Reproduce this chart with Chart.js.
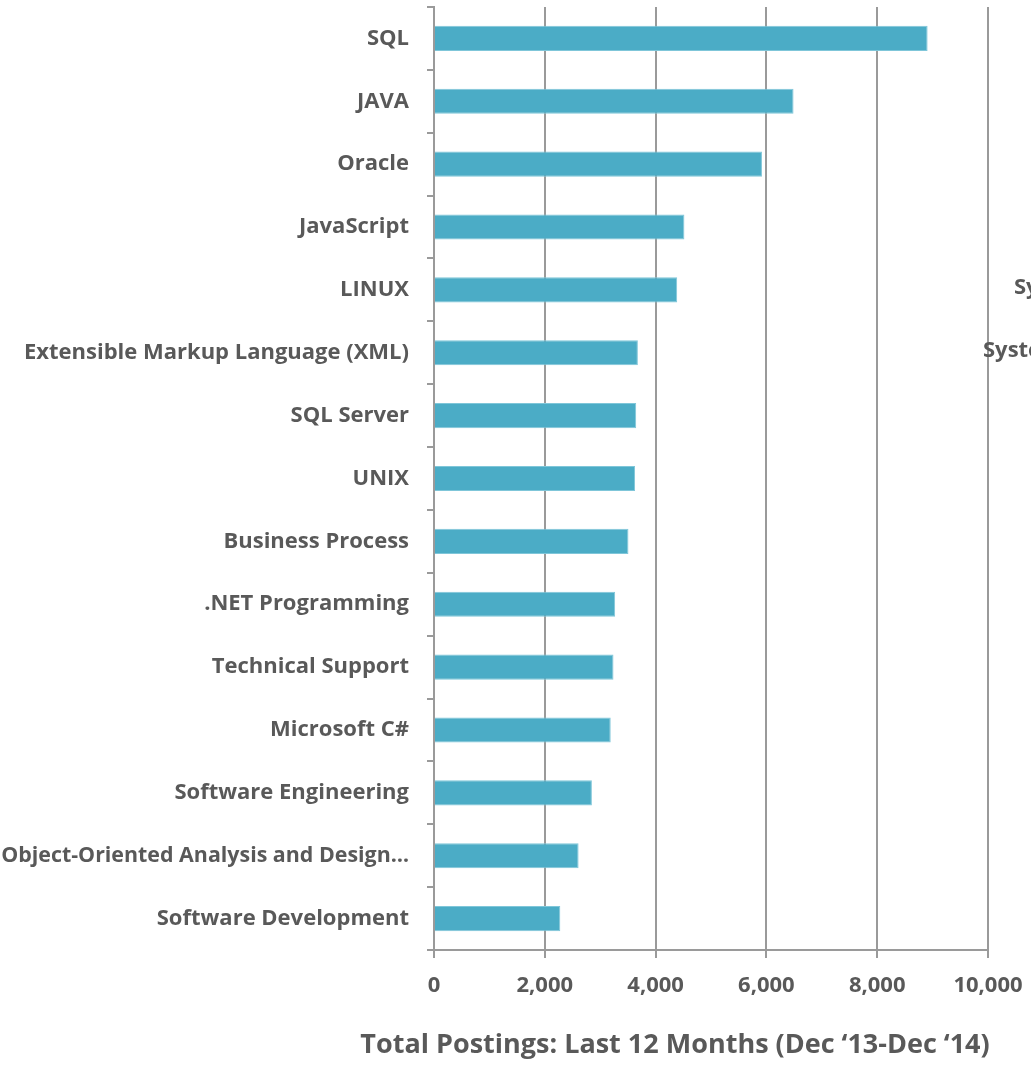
<!DOCTYPE html>
<html>
<head>
<meta charset="utf-8">
<script src="https://cdn.jsdelivr.net/npm/chart.js@4"></script>
<style>
    body { margin: 0; background: #fff; }
    #wrap { width: 1031px; height: 1067px; }
</style>
</head>
<body>
<div id="wrap"><canvas id="skillsChart"></canvas></div>
<script>
// Skills and posting counts
const skills = [
    'SQL', 'JAVA', 'Oracle', 'JavaScript', 'LINUX',
    'Extensible Markup Language (XML)', 'SQL Server', 'UNIX', 'Business Process',
    '.NET Programming', 'Technical Support', 'Microsoft C#', 'Software Engineering',
    'Object-Oriented Analysis and Design…', 'Software Development'
];
const postings = [8910, 6490, 5920, 4520, 4390, 3680, 3650, 3630, 3510, 3270, 3240, 3190, 2850, 2610, 2280];
const xTicks = [0, 2000, 4000, 6000, 8000, 10000];
const axisTitle = 'Total Postings: Last 12 Months (Dec \u201813-Dec \u201814)';
// bits of the neighbouring chart that peek in at the right edge
const clippedLabels = ['Systems', 'Systems'];

const textColor = '#595959';
const gridColor = '#9a9a9a';

// Draw the axis title and the clipped neighbour labels
const extraText = {
    id: 'extraText',
    afterDraw(chart) {
        const ctx = chart.ctx;
        ctx.save();
        ctx.fillStyle = textColor;
        ctx.textBaseline = 'middle';
        ctx.font = 'bold 27px "Open Sans"';
        ctx.textAlign = 'center';
        ctx.fillText(axisTitle, 675, 1045);
        ctx.font = 'bold 22px "Open Sans"';
        ctx.textAlign = 'left';
        ctx.fillText(clippedLabels[0], 1014, 288);
        ctx.fillText(clippedLabels[1], 983, 351);
        ctx.restore();
    }
};

document.addEventListener('DOMContentLoaded', function () {
    const ctx = document.getElementById('skillsChart').getContext('2d');
    new Chart(ctx, {
        type: 'bar',
        data: {
            labels: skills,
            datasets: [{
                label: 'Postings',
                data: postings,
                backgroundColor: '#4BACC6',
                borderColor: '#7fc6d9',
                borderWidth: 1,
                borderSkipped: 'start',
                categoryPercentage: 1,
                barPercentage: 0.4
            }]
        },
        options: {
            indexAxis: 'y',
            responsive: true,
            maintainAspectRatio: false,
            animation: false,
            layout: { padding: { top: 7, right: 43, left: 0, bottom: 0 } },
            plugins: {
                legend: { display: false },
                tooltip: { enabled: false }
            },
            scales: {
                x: {
                    min: 0,
                    max: 10000,
                    afterBuildTicks(scale) {
                        scale.ticks = xTicks.map(v => ({ value: v }));
                    },
                    afterFit(scale) {
                        scale.height = 117;
                        scale.paddingLeft = 0;
                        scale.paddingRight = 0;
                    },
                    grid: {
                        color: gridColor,
                        lineWidth: 2,
                        tickLength: 8,
                        drawTicks: true
                    },
                    border: { color: gridColor, width: 2 },
                    ticks: {
                        color: textColor,
                        padding: 15,
                        font: { family: 'Open Sans', size: 22, weight: 'bold' },
                        callback: v => v.toLocaleString('en-US')
                    }
                },
                y: {
                    afterFit(scale) {
                        scale.width = 434;
                        scale.paddingTop = 0;
                        scale.paddingBottom = 0;
                    },
                    grid: {
                        offset: true,
                        drawOnChartArea: false,
                        color: gridColor,
                        lineWidth: 2,
                        tickLength: 7
                    },
                    border: { color: gridColor, width: 2 },
                    ticks: {
                        color: textColor,
                        padding: 18,
                        autoSkip: false,
                        // the long truncated label is squeezed a little so it fits
                        font: (c) => ({
                            family: 'Open Sans',
                            size: skills[c.index] && skills[c.index].length > 34 ? 21.4 : 22,
                            weight: 'bold'
                        })
                    }
                }
            }
        },
        plugins: [extraText]
    });
});
</script>
</body>
</html>
